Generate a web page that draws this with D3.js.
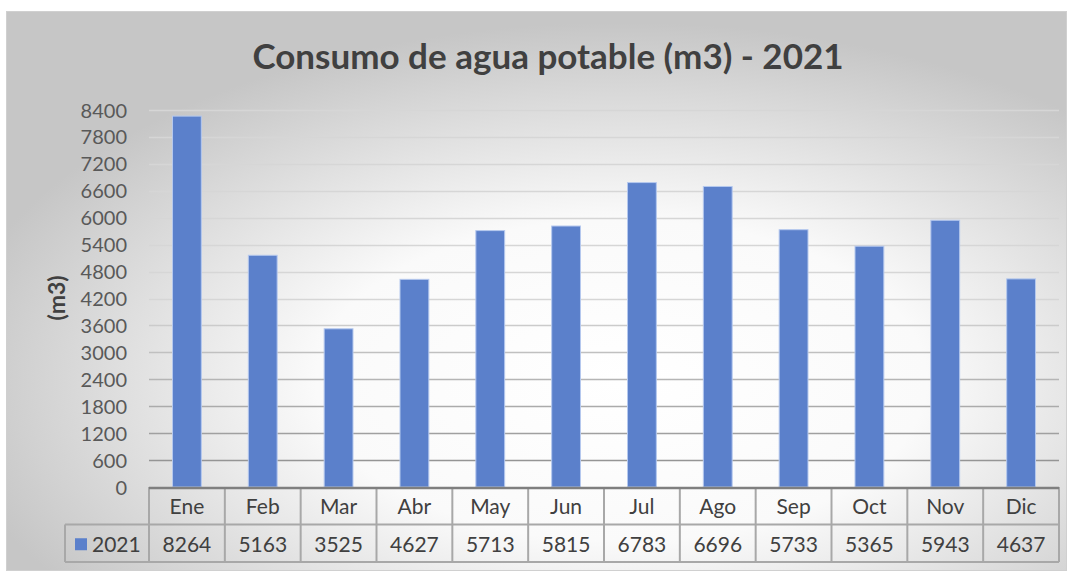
<!DOCTYPE html>
<html>
<head>
<meta charset="UTF-8" />
<script src="https://cdnjs.cloudflare.com/ajax/libs/d3/7.8.5/d3.min.js"></script>
<style>
  body { margin: 0; padding: 0; background: #fff; }
  svg text { font-family: Lato, "Open Sans", sans-serif; }
</style>
</head>
<body>
<svg id="chart" width="1074" height="571"></svg>
<script>
// data
const months = ["Ene", "Feb", "Mar", "Abr", "May", "Jun", "Jul", "Ago", "Sep", "Oct", "Nov", "Dic"];
const values2021 = [8264, 5163, 3525, 4627, 5713, 5815, 6783, 6696, 5733, 5365, 5943, 4637];
const yTicks = [0, 600, 1200, 1800, 2400, 3000, 3600, 4200, 4800, 5400, 6000, 6600, 7200, 7800, 8400];
const seriesName = "2021";
const title = "Consumo de agua potable (m3) - 2021";

const svg = d3.select("#chart");

// plot box
const plotL = 149, plotR = 1059, plotT = 110, plotB = 487;
const rowH = 37.5;

// background gradient like the office chart
const defs = svg.append("defs");
const grad = defs.append("radialGradient")
  .attr("id", "bg")
  .attr("cx", "58%").attr("cy", "66%").attr("r", "64%");
grad.append("stop").attr("offset", "0%").attr("stop-color", "#ffffff");
grad.append("stop").attr("offset", "45%").attr("stop-color", "#fafafa");
grad.append("stop").attr("offset", "100%").attr("stop-color", "#c6c6c6");

svg.append("rect")
  .attr("x", 6.5).attr("y", 11.5)
  .attr("width", 1060).attr("height", 559)
  .attr("fill", "url(#bg)")
  .attr("stroke", "#d0d0d0");

const x = d3.scaleBand().domain(months).range([plotL, plotR]).paddingInner(0.62).paddingOuter(0.31);
const cell = d3.scaleBand().domain(months).range([plotL, plotR]);
const y = d3.scaleLinear().domain([0, 8400]).range([plotB, plotT]);

// gridlines, darker toward the bottom
const gridColor = d3.interpolateRgb("#8a8a8a", "#d6d6d6");
svg.append("g")
  .selectAll("line")
  .data(yTicks.filter(d => d > 0))
  .join("line")
  .attr("x1", plotL).attr("x2", plotR)
  .attr("y1", d => Math.round(y(d)) + 0.5)
  .attr("y2", d => Math.round(y(d)) + 0.5)
  .attr("stroke", d => gridColor(Math.min(1, d / 4200)))
  .attr("stroke-width", 1.5);

// y axis labels
const yAxis = d3.axisLeft(y).tickValues(yTicks).tickFormat(d3.format("d")).tickSize(0).tickPadding(22);
const gy = svg.append("g").attr("transform", `translate(${plotL},0)`).call(yAxis);
gy.select(".domain").remove();
gy.selectAll("text")
  .attr("fill", "#595959")
  .style("font-size", "20px")
  .attr("dy", "0.35em");

// bars
svg.append("g")
  .selectAll("rect")
  .data(values2021)
  .join("rect")
  .attr("x", (d, i) => x(months[i]))
  .attr("y", d => y(d))
  .attr("width", x.bandwidth())
  .attr("height", d => plotB - y(d))
  .attr("fill", "#5b80cb")
  .attr("stroke", "#b5c8ee")
  .attr("stroke-width", 1);

// data table below the plot
const tbl = svg.append("g");
const lineCol = "#a8a8a8";
tbl.append("line").attr("x1", 65).attr("x2", plotR).attr("y1", plotB + rowH).attr("y2", plotB + rowH)
  .attr("stroke", lineCol).attr("stroke-width", 2);
tbl.append("line").attr("x1", 65).attr("x2", plotR).attr("y1", plotB + 2 * rowH).attr("y2", plotB + 2 * rowH)
  .attr("stroke", lineCol).attr("stroke-width", 2);
const xs = months.map(m => cell(m)).concat([plotR]);
tbl.selectAll("line.v")
  .data(xs)
  .join("line")
  .attr("class", "v")
  .attr("x1", d => d).attr("x2", d => d)
  .attr("y1", plotB).attr("y2", plotB + 2 * rowH)
  .attr("stroke", lineCol).attr("stroke-width", 2);
tbl.append("line").attr("x1", 65).attr("x2", 65).attr("y1", plotB + rowH).attr("y2", plotB + 2 * rowH)
  .attr("stroke", lineCol).attr("stroke-width", 2);

// axis baseline
svg.append("line")
  .attr("x1", plotL).attr("x2", plotR)
  .attr("y1", plotB + 1).attr("y2", plotB + 1)
  .attr("stroke", "#7f7f7f").attr("stroke-width", 2.5);

tbl.selectAll("text.cat")
  .data(months)
  .join("text")
  .attr("class", "cat")
  .attr("x", d => cell(d) + cell.bandwidth() / 2)
  .attr("y", plotB + rowH / 2 + 1)
  .attr("dy", "0.35em")
  .attr("text-anchor", "middle")
  .attr("fill", "#404040")
  .style("font-size", "21px")
  .text(d => d);

tbl.selectAll("text.val")
  .data(values2021)
  .join("text")
  .attr("class", "val")
  .attr("x", (d, i) => cell(months[i]) + cell.bandwidth() / 2)
  .attr("y", plotB + rowH * 1.5 + 1)
  .attr("dy", "0.35em")
  .attr("text-anchor", "middle")
  .attr("fill", "#404040")
  .style("font-size", "21px")
  .text(d => d);

// legend key in the table
tbl.append("rect")
  .attr("x", 75).attr("y", plotB + rowH * 1.5 - 5)
  .attr("width", 12).attr("height", 12)
  .attr("fill", "#5b80cb");
tbl.append("text")
  .attr("x", 92).attr("y", plotB + rowH * 1.5 + 1)
  .attr("dy", "0.35em")
  .attr("fill", "#404040")
  .style("font-size", "21px")
  .text(seriesName);

// title
svg.append("text")
  .attr("x", 548).attr("y", 69)
  .attr("text-anchor", "middle")
  .attr("fill", "#404040")
  .style("font-size", "35px")
  .style("font-weight", "bold")
  .text(title);

// y axis title
svg.append("text")
  .attr("transform", "translate(65,298) rotate(-90)")
  .attr("text-anchor", "middle")
  .attr("fill", "#404040")
  .style("font-size", "23px")
  .style("font-weight", "bold")
  .text("(m3)");
</script>
</body>
</html>
